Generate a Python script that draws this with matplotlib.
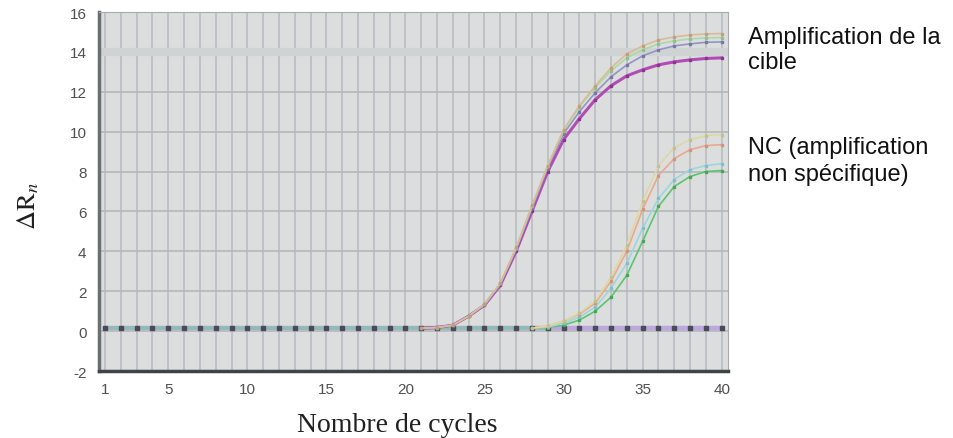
import numpy as np
import matplotlib
matplotlib.use("Agg")
from matplotlib import pyplot as plt

plt.rcParams["axes.unicode_minus"] = False
plt.rcParams["mathtext.fontset"] = "stix"

# cycles
cycles = np.arange(1, 41)
base = [0.15] * 21

# courbes cible (amplification de la cible)
cible_tan = base + [0.18, 0.3, 0.75, 1.35, 2.4, 4.2, 6.3, 8.3, 10.1, 11.3, 12.3, 13.2, 13.9,
                    14.3, 14.6, 14.75, 14.85, 14.9, 14.92]
cible_vert = base + [0.18, 0.3, 0.75, 1.35, 2.4, 4.15, 6.25, 8.3, 10.05, 11.25, 12.2, 13.05, 13.7,
                     14.1, 14.4, 14.55, 14.65, 14.7, 14.72]
cible_lav = base + [0.18, 0.3, 0.75, 1.3, 2.35, 4.1, 6.15, 8.2, 9.9, 11.0, 11.95, 12.75, 13.35,
                    13.8, 14.1, 14.3, 14.4, 14.48, 14.5]
cible_mag = base + [0.18, 0.3, 0.75, 1.3, 2.3, 4.0, 6.0, 8.0, 9.6, 10.65, 11.6, 12.3, 12.8,
                    13.1, 13.35, 13.5, 13.6, 13.67, 13.7]

# courbes NC (amplification non spécifique)
base_nc = [0.15] * 28
nc_jaune = base_nc + [0.25, 0.5, 0.9, 1.5, 2.7, 4.3, 6.5, 8.3, 9.2, 9.6, 9.8, 9.85]
nc_saumon = base_nc + [0.25, 0.5, 0.85, 1.4, 2.5, 4.0, 6.1, 7.8, 8.65, 9.1, 9.3, 9.35]
nc_cyan = base_nc + [0.2, 0.4, 0.7, 1.2, 2.15, 3.4, 5.15, 6.65, 7.6, 8.1, 8.3, 8.4]
nc_vert = base_nc + [0.18, 0.3, 0.55, 1.0, 1.7, 2.8, 4.5, 6.25, 7.25, 7.75, 8.0, 8.05]

# controle sans matrice (ligne plate)
ntc = [0.15] * 40

W, H = 954, 439
fig = plt.figure(figsize=(W / 100, H / 100), dpi=100)
ax = fig.add_axes([99 / W, 1 - 372 / H, (728 - 99) / W, (372 - 13) / H])
ax.set_facecolor("#dcdede")

ax.set_xlim(0.62, 40.4)
ax.set_ylim(-2, 16)

# grille
ax.set_xticks([1, 5, 10, 15, 20, 25, 30, 35, 40])
ax.set_xticks(cycles, minor=True)
ax.set_yticks(np.arange(-2, 17, 2))
ax.set_axisbelow(True)
ax.grid(which="both", axis="x", color="#b8bcc0", lw=1.2)
ax.grid(which="major", axis="y", color="#b4b8bc", lw=1.2)
ax.axhline(14, color="#d0d3d3", lw=6, zorder=0.6)

# ligne plate
ax.plot(cycles, ntc, color="#bca8dc", lw=3.2, zorder=2)
ax.plot(cycles[:29], ntc[:29], color="#90bcb4", lw=2.6, zorder=2.1)
ax.plot(cycles, ntc, ls="none", marker="s", ms=2.6, mfc="#4a4a58", mec="#4a4a58", zorder=2.2)

def courbe(y, start, c, mc, lw=1.2, z=3):
    ax.plot(cycles[start:], y[start:], color=c, lw=lw, marker="s", ms=1.6,
            mfc=mc, mec=mc, zorder=z)

courbe(nc_vert, 27, "#5cc46c", "#44a854")
courbe(nc_cyan, 27, "#9cd6de", "#7cc0c8")
courbe(nc_saumon, 27, "#eaa88c", "#d49478")
courbe(nc_jaune, 27, "#dcd8a4", "#c4c08c")

courbe(cible_mag, 20, "#b04cb4", "#8c3490", lw=2.2)
courbe(cible_lav, 20, "#9494c4", "#7878a8")
courbe(cible_vert, 20, "#acd8ac", "#90c090")
courbe(cible_tan, 20, "#d8bc94", "#c0a07c")

# axes
ax.tick_params(which="both", length=0)
ax.tick_params(axis="both", labelsize=11, labelcolor="#505050")
ax.tick_params(axis="x", pad=8)
ax.tick_params(axis="y", pad=9)
for lab in ax.get_xticklabels() + ax.get_yticklabels():
    lab.set_family("Liberation Sans")
ax.spines["left"].set_color("#687070")
ax.spines["left"].set_linewidth(2.5)
ax.spines["bottom"].set_color("#404444")
ax.spines["bottom"].set_linewidth(2.5)
ax.spines["top"].set_color("#a8acac")
ax.spines["right"].set_color("#a8acac")

fig.text(397 / W, 1 - 432 / H, "Nombre de cycles", family="Liberation Serif",
         fontsize=20, ha="center", va="baseline", color="#202020")
fig.text(28 / W, 1 - 206 / H, r"$\Delta\mathrm{R}_n$", fontsize=19, rotation=90,
         ha="center", va="center", color="#202020")

fig.text(748 / W, 1 - 44 / H, "Amplification de la", family="Liberation Sans",
         fontsize=17, va="baseline", color="#111111")
fig.text(748 / W, 1 - 69 / H, "cible", family="Liberation Sans",
         fontsize=17, va="baseline", color="#111111")
fig.text(748 / W, 1 - 154 / H, "NC (amplification", family="Liberation Sans",
         fontsize=17, va="baseline", color="#111111")
fig.text(748 / W, 1 - 181 / H, "non spécifique)", family="Liberation Sans",
         fontsize=17, va="baseline", color="#111111")

fig.savefig("out.png", dpi=100, facecolor="white")
